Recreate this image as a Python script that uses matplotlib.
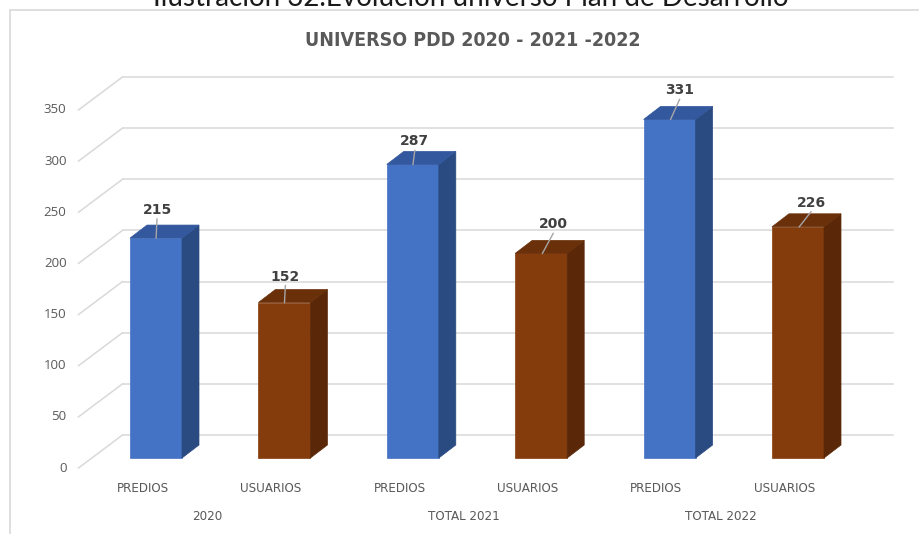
import matplotlib.pyplot as plt
from matplotlib.patches import Polygon, Rectangle

# series
categories = ["PREDIOS", "USUARIOS", "PREDIOS", "USUARIOS", "PREDIOS", "USUARIOS"]
groups = ["2020", "TOTAL 2021", "TOTAL 2022"]
values = [215, 152, 287, 200, 331, 226]
yticks = [0, 50, 100, 150, 200, 250, 300, 350]

front_cols = ["#4472C4", "#843C0C"]
side_cols = ["#2A4A82", "#5A2808"]
top_cols = ["#34589E", "#6A300A"]
grid_col = "#D9D9D9"
text_col = "#595959"

# pixel scale of the bar plane
PPX = 128.4   # px per category
PPY = 1.023   # px per unit

fig = plt.figure(figsize=(9.2, 5.34), dpi=100)
ax = fig.add_axes([0, 0, 1, 1])
ax.set_xlim(-156 / PPX, (920 - 156) / PPX)
ax.set_ylim((458 - 534) / PPY, 458 / PPY)
ax.axis("off")


def dx(p):
    return p / PPX


def dy(p):
    return p / PPY


# floor/wall offsets relative to the bar plane (front edge, back wall)
fx, fy = dx(-13.3), dy(-10)
bx, by = dx(30.7), dy(23)
x0, x1 = -0.5, 5.5

for v in yticks:
    ax.plot([x0 + bx, x1 + bx], [v + by, v + by], color=grid_col, lw=1.1, zorder=1)
    ax.plot([x0 + fx, x0 + bx], [v + fy, v + by], color=grid_col, lw=1.1, zorder=1)
    ax.text(x0 + fx - dx(12), v + fy, str(v), ha="right", va="center",
            fontsize=9.5, color=text_col, family=["Open Sans", "DejaVu Sans"])

# 3d bars
W = 52 / PPX
ddx, ddy = dx(17), dy(13)
for i, v in enumerate(values):
    c = i % 2
    ax.bar(i, v, width=W, color=front_cols[c], edgecolor=front_cols[c], lw=0.5, zorder=3)
    r = i + W / 2
    l = i - W / 2
    side = [(r, 0), (r, v), (r + ddx, v + ddy), (r + ddx, ddy)]
    top = [(l, v), (r, v), (r + ddx, v + ddy), (l + ddx, v + ddy)]
    ax.add_patch(Polygon(side, closed=True, fc=side_cols[c], ec=side_cols[c], lw=0.5, zorder=3))
    ax.add_patch(Polygon(top, closed=True, fc=top_cols[c], ec=top_cols[c], lw=0.5, zorder=3))

# data labels with leader lines
lab_off = [(1, 28), (1, 26), (2, 23), (12, 29), (10, 29), (13, 24)]
for i, v in enumerate(values):
    ox, oy = lab_off[i]
    lx, ly = i + dx(ox), v + dy(oy)
    ax.plot([i + dx(ox * 0.1), lx], [v, ly - dy(9)], color="#A6A6A6", lw=1, zorder=4)
    ax.text(lx, ly, str(v), ha="center", va="center", fontsize=10,
            fontweight="bold", color="#404040", zorder=5)

# category axis
for i, cat in enumerate(categories):
    ax.text(i + fx, dy(-30), cat, ha="center", va="center", fontsize=9.5,
            color=text_col, family="DejaVu Sans", fontstretch="condensed")
for g, name in enumerate(groups):
    ax.text(2 * g + 0.5 + fx, dy(-59), name, ha="center", va="center", fontsize=9.5,
            color=text_col, family="DejaVu Sans", fontstretch="condensed")

# chart frame and titles
fig.add_artist(Rectangle((10 / 920, -0.1), 2, 1.1 - 10 / 534, transform=fig.transFigure,
                         fill=False, ec="#D9D9D9", lw=1.2))
fig.text(473 / 920, 1 - 41 / 534, "UNIVERSO PDD 2020 - 2021 -2022", ha="center", va="center",
         fontsize=14, fontweight="bold", color=text_col,
         family="DejaVu Sans", fontstretch="condensed")
fig.text(471 / 920, 1 - 6 / 534, "Ilustración 32.Evolución universo Plan de Desarrollo",
         ha="center", va="baseline", fontsize=20, color="#1A1A1A",
         family=["Lato", "DejaVu Sans"])

fig.savefig("out.png", dpi=100)
